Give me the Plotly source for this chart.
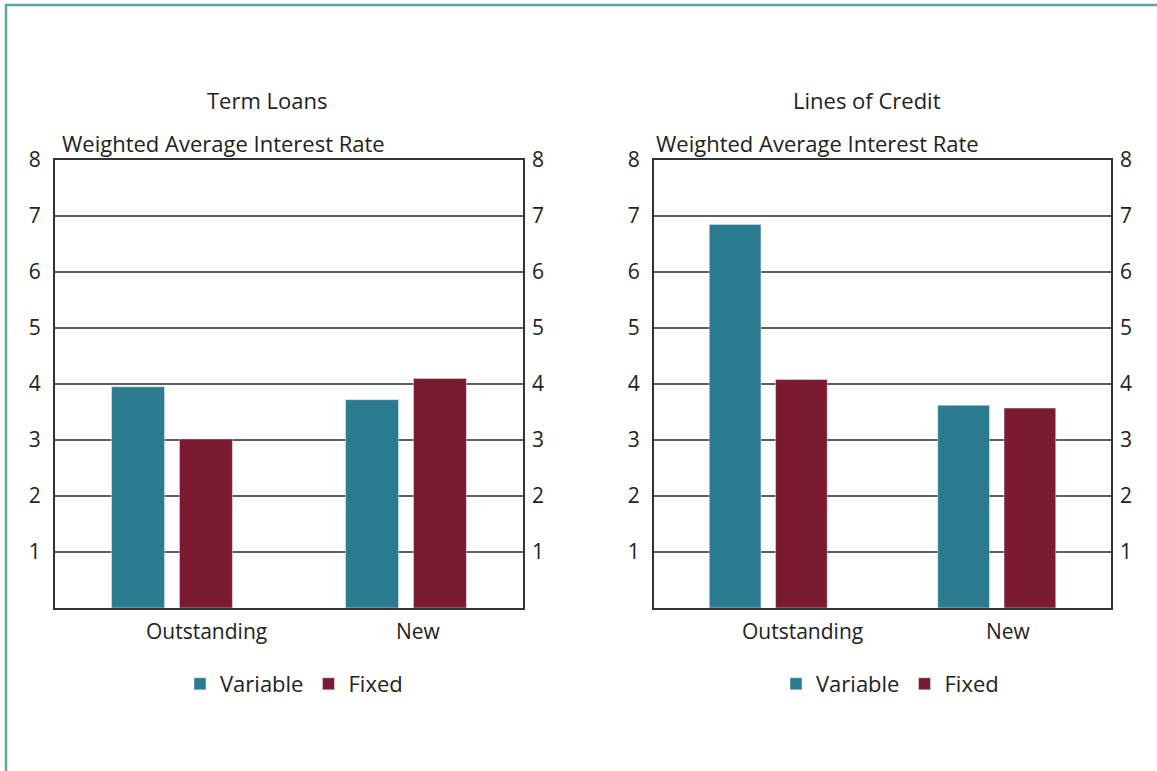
import plotly.graph_objects as go

categories = ["Outstanding", "New"]
term_variable = [3.95, 3.72]
term_fixed = [3.02, 4.1]
credit_variable = [6.85, 3.62]
credit_fixed = [4.08, 3.57]
y_ticks = [1, 2, 3, 4, 5, 6, 7, 8]

TEAL = "#2b7b90"
MAROON = "#7a1b31"
FONT = "Open Sans"
TXT = "#222222"
W, H = 1157, 771


def px_x(p):
    return p / W


def px_y(p):
    return 1 - p / H


fig = go.Figure()

fig.add_trace(go.Bar(x=categories, y=term_variable, name="Variable", marker_color=TEAL,
                     xaxis="x", yaxis="y", legend="legend"))
fig.add_trace(go.Bar(x=categories, y=term_fixed, name="Fixed", marker_color=MAROON,
                     xaxis="x", yaxis="y", legend="legend"))
fig.add_trace(go.Bar(x=categories, y=credit_variable, name="Variable", marker_color=TEAL,
                     xaxis="x2", yaxis="y2", legend="legend2"))
fig.add_trace(go.Bar(x=categories, y=credit_fixed, name="Fixed", marker_color=MAROON,
                     xaxis="x2", yaxis="y2", legend="legend2"))
# empty traces so the right-hand axes render
fig.add_trace(go.Scatter(x=[None], y=[None], xaxis="x", yaxis="y3", showlegend=False))
fig.add_trace(go.Scatter(x=[None], y=[None], xaxis="x2", yaxis="y4", showlegend=False))

ydom = [px_y(608), px_y(160)]
left_dom = [px_x(55), px_x(523)]
right_dom = [px_x(654), px_x(1111)]

tickfont = dict(size=21, color=TXT)
yax = dict(range=[0, 8], tickvals=y_ticks, showgrid=True, gridcolor="#5e5e5e", gridwidth=1.5,
           showline=True, linecolor="#333", linewidth=2, mirror=True, zeroline=False,
           tickfont=tickfont, ticks="", ticklabelstandoff=8, domain=ydom, fixedrange=True,
           automargin=False)
yax_r = dict(range=[0, 8], tickvals=y_ticks, showgrid=False, showline=False, zeroline=False,
             side="right", tickfont=tickfont, ticks="", ticklabelstandoff=8, fixedrange=True,
             automargin=False)
xax = dict(showticklabels=False, showline=True, linecolor="#333", linewidth=2, mirror=True,
           ticks="", showgrid=False, fixedrange=True, automargin=False)
legfont = dict(size=22, color=TXT)

fig.update_layout(
    width=W, height=H,
    margin=dict(l=0, r=0, t=0, b=0, pad=0),
    paper_bgcolor="white", plot_bgcolor="white",
    font=dict(family=FONT, color=TXT),
    barmode="group", bargap=0.42, bargroupgap=0.22,
    xaxis=dict(domain=left_dom, anchor="y", **xax),
    xaxis2=dict(domain=right_dom, anchor="y2", **xax),
    yaxis=dict(anchor="x", **yax),
    yaxis2=dict(anchor="x2", **yax),
    yaxis3=dict(overlaying="y", anchor="x", **yax_r),
    yaxis4=dict(overlaying="y2", anchor="x2", **yax_r),
    legend=dict(orientation="h", x=px_x(294), xanchor="center", y=px_y(684), yanchor="middle",
                font=legfont, itemwidth=30, traceorder="normal"),
    legend2=dict(orientation="h", x=px_x(890), xanchor="center", y=px_y(684), yanchor="middle",
                 font=legfont, itemwidth=30, traceorder="normal"),
    showlegend=True,
)

annotations = []
for title, cx in [("Term Loans", 267), ("Lines of Credit", 867)]:
    annotations.append(dict(text=title, x=px_x(cx), y=px_y(100), xref="paper", yref="paper",
                            xanchor="center", yanchor="middle", showarrow=False,
                            font=dict(size=22, color=TXT)))
for lx in [60, 654]:
    annotations.append(dict(text="Weighted Average Interest Rate", x=px_x(lx), y=px_y(143),
                            xref="paper", yref="paper", xanchor="left", yanchor="middle",
                            showarrow=False, font=dict(size=22, color=TXT)))
for xr in ["x", "x2"]:
    for cat, shift in zip(categories, [34, 12]):
        annotations.append(dict(text=cat, x=cat, xref=xr, y=px_y(631), yref="paper",
                                xanchor="center", yanchor="middle", xshift=shift,
                                showarrow=False, font=dict(size=21, color=TXT)))
fig.update_layout(annotations=annotations)

# teal frame around the figure
fig.add_shape(type="rect", xref="paper", yref="paper", x0=px_x(6), x1=1.01, y0=-0.01, y1=px_y(5),
              line=dict(color="#5fa3a3", width=2.5), fillcolor="rgba(0,0,0,0)", layer="below")

fig.write_html("out.html", config={"displayModeBar": False},
               post_script="document.body.style.margin='0';document.body.style.overflow='hidden';")
